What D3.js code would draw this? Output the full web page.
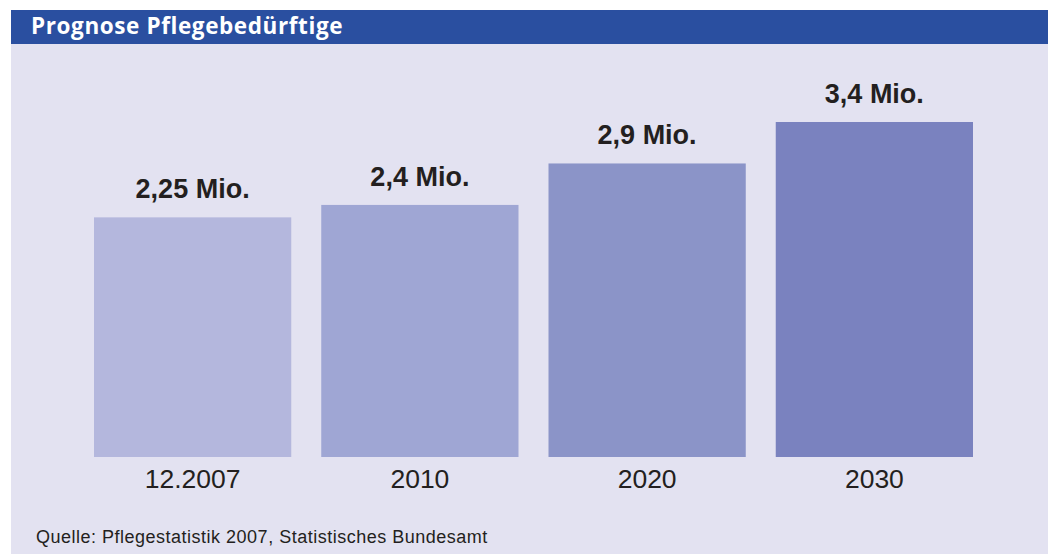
<!DOCTYPE html>
<html>
<head>
<meta charset="utf-8">
<script src="https://cdn.jsdelivr.net/npm/d3@7"></script>
<style>
  html, body { margin: 0; padding: 0; background: #fff; }
  svg { display: block; }
</style>
</head>
<body>
<svg id="chart" width="1053" height="554"></svg>
<script>
const categories = ["12.2007", "2010", "2020", "2030"];
const values = [2.25, 2.4, 2.9, 3.4];
const valueLabels = ["2,25 Mio.", "2,4 Mio.", "2,9 Mio.", "3,4 Mio."];
const barColors = ["#b4b7dd", "#9fa6d4", "#8b94c8", "#7a82bf"];
const title = "Prognose Pflegebedürftige";
const source = "Quelle: Pflegestatistik 2007, Statistisches Bundesamt";

const svg = d3.select("#chart");

// Hintergrund
svg.append("rect")
  .attr("x", 11).attr("y", 10)
  .attr("width", 1037).attr("height", 544)
  .attr("fill", "#e3e2f1");

// Titelleiste
svg.append("rect")
  .attr("x", 11).attr("y", 10)
  .attr("width", 1037).attr("height", 34)
  .attr("fill", "#2a4fa0");

svg.append("text")
  .attr("x", 31).attr("y", 34)
  .style("font-family", "'Open Sans', sans-serif")
  .style("font-weight", "bold")
  .style("font-size", "22.5px")
  .style("letter-spacing", "0.6px")
  .attr("fill", "#fff")
  .text(title);

const baseline = 457;

const x = d3.scaleBand()
  .domain(categories)
  .range([94, 973])
  .paddingInner(0.132)
  .paddingOuter(0);

// Skala beginnt nicht bei 0 (wie im Original)
const y = d3.scaleLinear()
  .domain([-0.64, 3.4])
  .range([baseline, 122]);

const bars = svg.append("g")
  .selectAll("g")
  .data(categories.map((c, i) => ({ c, v: values[i], label: valueLabels[i], color: barColors[i] })))
  .join("g");

bars.append("rect")
  .attr("x", d => x(d.c))
  .attr("y", d => y(d.v))
  .attr("width", x.bandwidth())
  .attr("height", d => baseline - y(d.v))
  .attr("fill", d => d.color);

bars.append("text")
  .attr("x", d => x(d.c) + x.bandwidth() / 2)
  .attr("y", d => y(d.v) - 19)
  .attr("text-anchor", "middle")
  .style("font-family", "'Liberation Sans', Arial, sans-serif")
  .style("font-weight", "bold")
  .style("font-size", "27px")
  .attr("fill", "#231f20")
  .text(d => d.label);

// Achse unten
const axis = svg.append("g")
  .attr("transform", `translate(0,${baseline})`)
  .call(d3.axisBottom(x).tickSize(0).tickPadding(0));
axis.select(".domain").remove();
axis.selectAll("text")
  .attr("dy", null)
  .attr("y", 31)
  .style("font-family", "'Liberation Sans', Arial, sans-serif")
  .style("font-size", "26.5px")
  .attr("fill", "#231f20");

// Quelle
svg.append("text")
  .attr("x", 36).attr("y", 543)
  .style("font-family", "'Liberation Sans', Arial, sans-serif")
  .style("font-size", "18px")
  .style("letter-spacing", "0.5px")
  .attr("fill", "#231f20")
  .text(source);
</script>
</body>
</html>
